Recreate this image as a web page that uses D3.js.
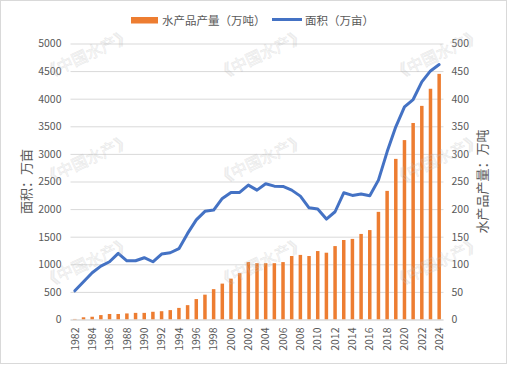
<!DOCTYPE html>
<html>
<head>
<meta charset="utf-8">
<script src="https://cdn.jsdelivr.net/npm/d3@7/dist/d3.min.js"></script>
<style>
  html, body { margin: 0; padding: 0; background: #fff; }
  svg { display: block; }
  text { font-family: "Noto Sans CJK SC", "Noto Sans", sans-serif; }
</style>
</head>
<body>
<svg id="chart" width="508" height="365"></svg>
<script>
// ---- data ----
const years = ["1982","1983","1984","1985","1986","1987","1988","1989","1990","1991","1992","1993","1994","1995","1996","1997","1998","1999","2000","2001","2002","2003","2004","2005","2006","2007","2008","2009","2010","2011","2012","2013","2014","2015","2016","2017","2018","2019","2020","2021","2022","2023","2024"];
const output = [1,4,5,8,10,10,11,12,12,14,15,17,21,26,37,45,55,65,74,84,104,102,102,102,104,115,117,115,124,121,133,144,146,155,162,195,233,291,325,356,387,418,445];
const area = [520,685,847,968,1046,1198,1064,1064,1119,1046,1186,1209,1282,1560,1805,1960,1982,2193,2302,2302,2434,2344,2458,2416,2410,2344,2235,2024,2000,1819,1952,2296,2248,2272,2241,2525,3037,3490,3852,3985,4304,4503,4619];
const leftTicks = [0,500,1000,1500,2000,2500,3000,3500,4000,4500,5000];
const rightTicks = [0,50,100,150,200,250,300,350,400,450,500];
const xTickLabels = years.filter((d, i) => i % 2 === 0);
const seriesNames = ["水产品产量（万吨）", "面积（万亩）"];
const leftTitle = "面积：万亩";
const rightTitle = "水产品产量：万吨";
const watermark = "《中国水产》";

// ---- setup ----
const W = 508, H = 365;
const plot = { left: 70.5, right: 443.5, top: 43.5, bottom: 319.5 };
const orange = "#ED7D31", blue = "#4472C4", grid = "#D9D9D9", txt = "#595959";

const svg = d3.select("#chart");

svg.append("rect").attr("x", 0.5).attr("y", 0.5).attr("width", W - 2).attr("height", H - 2)
  .attr("fill", "#fff").attr("stroke", grid);

const x = d3.scaleBand().domain(years).range([plot.left, plot.right]).padding(0);
const yL = d3.scaleLinear().domain([0, 5000]).range([plot.bottom, plot.top]);
const yR = d3.scaleLinear().domain([0, 500]).range([plot.bottom, plot.top]);
const bw = 3.5;

// gridlines + left axis
const gAxisL = svg.append("g").attr("transform", `translate(${plot.left},0)`)
  .call(d3.axisLeft(yL).tickValues(leftTicks).tickFormat(d3.format("d"))
    .tickSize(-(plot.right - plot.left)).tickPadding(9));
gAxisL.select(".domain").remove();
gAxisL.selectAll(".tick line").attr("stroke", grid);
gAxisL.selectAll(".tick text").attr("fill", txt).style("font-size", "10.5px");

const gAxisR = svg.append("g").attr("transform", `translate(${plot.right},0)`)
  .call(d3.axisRight(yR).tickValues(rightTicks).tickFormat(d3.format("d")).tickSize(0).tickPadding(8));
gAxisR.select(".domain").remove();
gAxisR.selectAll(".tick text").attr("fill", txt).style("font-size", "10.5px");

// bars
svg.append("g").selectAll("rect").data(years).join("rect")
  .attr("x", d => x(d) + (x.bandwidth() - bw) / 2)
  .attr("width", bw)
  .attr("y", (d, i) => yR(output[i]))
  .attr("height", (d, i) => plot.bottom - yR(output[i]))
  .attr("fill", orange);

// x axis
const gX = svg.append("g").attr("transform", `translate(0,${plot.bottom})`)
  .call(d3.axisBottom(x).tickValues(xTickLabels).tickSize(0).tickPadding(0));
gX.select(".domain").attr("stroke", grid).attr("d", `M${plot.left},0.5H${plot.right}`);
gX.selectAll(".tick text")
  .attr("fill", txt).style("font-size", "10.5px")
  .attr("transform", "rotate(-90)")
  .attr("text-anchor", "end")
  .attr("x", -8).attr("y", 0).attr("dy", "0.35em");

// line
const line = d3.line()
  .x((d, i) => x(years[i]) + x.bandwidth() / 2)
  .y(d => yL(d));
svg.append("path").datum(area).attr("d", line)
  .attr("fill", "none").attr("stroke", blue).attr("stroke-width", 3)
  .attr("stroke-linejoin", "round").attr("stroke-linecap", "round");

// axis titles
svg.append("text").attr("transform", `translate(26,${(plot.top + plot.bottom) / 2}) rotate(-90)`)
  .attr("text-anchor", "middle").attr("dy", "0.35em")
  .attr("fill", txt).style("font-size", "13px").text(leftTitle);
svg.append("text").attr("transform", `translate(482,${(plot.top + plot.bottom) / 2}) rotate(-90)`)
  .attr("text-anchor", "middle").attr("dy", "0.35em")
  .attr("fill", txt).style("font-size", "13px").text(rightTitle);

// legend
const lg = svg.append("g");
lg.append("rect").attr("x", 131).attr("y", 17).attr("width", 27).attr("height", 6.5).attr("fill", orange);
lg.append("text").attr("x", 162).attr("y", 20.5).attr("dy", "0.35em")
  .attr("fill", txt).style("font-size", "11.5px").text(seriesNames[0]);
lg.append("line").attr("x1", 272).attr("x2", 302).attr("y1", 19.5).attr("y2", 19.5)
  .attr("stroke", blue).attr("stroke-width", 3);
lg.append("text").attr("x", 305).attr("y", 20.5).attr("dy", "0.35em")
  .attr("fill", txt).style("font-size", "11.5px").text(seriesNames[1]);

// watermarks
const wmCols = [87, 261, 437], wmRows = [55, 160, 263];
const wm = svg.append("g").attr("pointer-events", "none");
wmRows.forEach(ry => wmCols.forEach(cx => {
  wm.append("text").attr("transform", `translate(${cx},${ry}) rotate(-25)`)
    .attr("text-anchor", "middle").attr("dy", "0.35em")
    .style("font-size", "16px")
    .attr("fill", "rgba(255,255,255,0.15)")
    .attr("stroke", "rgba(160,160,160,0.22)").attr("stroke-width", 0.8)
    .text(watermark);
}));
</script>
</body>
</html>
